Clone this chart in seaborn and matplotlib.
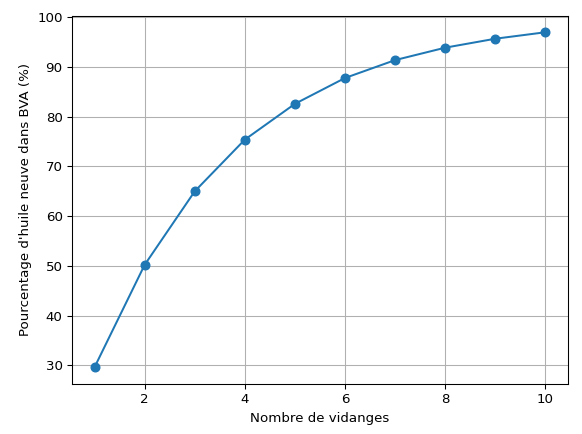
import matplotlib

matplotlib.use("Agg")

import matplotlib.pyplot as plt
import pandas as pd
import seaborn as sns

# data
n_vidanges = [1, 2, 3, 4, 5, 6, 7, 8, 9, 10]
pct_huile_neuve = [29.6, 50.2, 65.0, 75.4, 82.6, 87.8, 91.4, 93.9, 95.7, 97.0]

df = pd.DataFrame({"n": n_vidanges, "pct": pct_huile_neuve})

fig, ax = plt.subplots(figsize=(582 / 96, 434 / 96), dpi=96)
sns.lineplot(df, x="n", y="pct", marker="o", markersize=6.5,
             markeredgewidth=1, markeredgecolor="#1f77b4",
             color="#1f77b4", linewidth=1.5, ax=ax)
ax.grid(True, color="#b0b0b0", linewidth=0.8)
ax.set_xlabel("Nombre de vidanges")
ax.set_ylabel("Pourcentage d'huile neuve dans BVA (%)")
fig.subplots_adjust(left=72 / 582, right=568 / 582, top=1 - 15.5 / 434,
                    bottom=1 - 384 / 434)
fig.savefig("out.png", dpi=96)
